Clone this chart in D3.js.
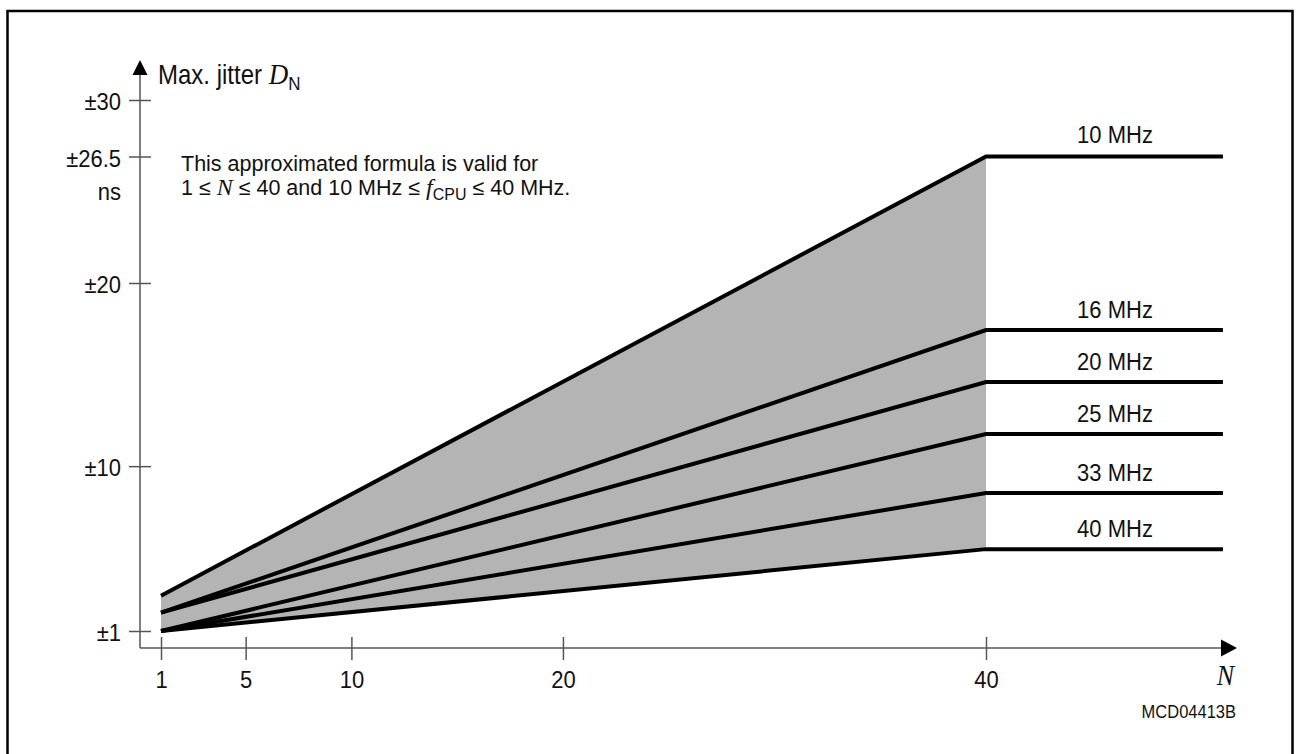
<!DOCTYPE html>
<html>
<head>
<meta charset="utf-8">
<script src="https://cdn.jsdelivr.net/npm/d3@7"></script>
<style>
  body { margin: 0; background: #fff; }
  svg text { font-family: "Liberation Sans", Arial, sans-serif; fill: #111; }
  .serif { font-family: "Liberation Serif", "Times New Roman", serif; font-style: italic; }
</style>
</head>
<body>
<div class="view"></div>
<script>
// data
const freqLabels = ['10 MHz', '16 MHz', '20 MHz', '25 MHz', '33 MHz', '40 MHz']
const jitterAtN1 = [2.93, 2.0, 2.0, 1.0, 1.0, 1.0]
const jitterAtN40 = [26.5, 17.43, 14.59, 11.75, 8.53, 5.47]
const nStart = 1
const nKnee = 40
const nFlatEnd = 51.2
const xTicks = [1, 5, 10, 20, 40]
const yTicks = [1, 10, 20, 26.5, 30]

const w = 1297
const h = 754
const stretchY = 1.12   // the original lettering is a bit taller than Liberation Sans

const svg = d3.select('.view')
    .append('svg')
    .attr('width', w)
    .attr('height', h)

// put a text at (x, y) and stretch it vertically around its baseline
function stretch(sel, x, y) {
    sel.attr('x', null).attr('y', null).attr('dy', null)
        .attr('transform', 'translate(' + x + ',' + y + ') scale(1,' + stretchY + ')')
    return sel
}

// scales (y is piecewise, the ±26.5 mark is not to scale in the drawing)
const xScale = d3.scaleLinear()
    .domain([nStart, nKnee])
    .range([161, 986])

const yScale = d3.scaleLinear()
    .domain([1, 20, 26.5, 30])
    .range([631, 283, 156.5, 100])

const axisX = 140
const axisY = 648

// frame
svg.append('rect')
    .attr('x', 7.5)
    .attr('y', 11)
    .attr('width', 1285)
    .attr('height', 780)
    .attr('fill', 'none')
    .attr('stroke', '#000')
    .attr('stroke-width', 2.5)

const series = freqLabels.map((label, i) => ({
    label: label,
    pts: [
        { n: nStart, v: jitterAtN1[i] },
        { n: nKnee, v: jitterAtN40[i] },
        { n: nFlatEnd, v: jitterAtN40[i] }
    ]
}))

// grey band between 10 MHz and 40 MHz up to N = 40
const last = freqLabels.length - 1
const band = [
    { n: nStart, hi: jitterAtN1[0], lo: jitterAtN1[last] },
    { n: nKnee, hi: jitterAtN40[0], lo: jitterAtN40[last] }
]
const area = d3.area()
    .x((d) => xScale(d.n))
    .y0((d) => yScale(d.lo))
    .y1((d) => yScale(d.hi))

svg.append('path')
    .datum(band)
    .attr('d', area)
    .attr('fill', '#b4b4b4')

// axes
const yAxis = d3.axisLeft(yScale)
    .tickValues(yTicks)
    .tickFormat((d) => '±' + d)
    .tickSize(11)

const xAxis = d3.axisBottom(xScale)
    .tickValues(xTicks)
    .tickFormat(d3.format('d'))
    .tickSize(12)

const gy = svg.append('g')
    .attr('class', 'y-axis')
    .attr('transform', 'translate(' + axisX + ',0)')
    .call(yAxis)

const gx = svg.append('g')
    .attr('class', 'x-axis')
    .attr('transform', 'translate(0,' + axisY + ')')
    .call(xAxis)

svg.selectAll('.domain').remove()
gy.selectAll('line').attr('x1', 11)
gx.selectAll('line').attr('y1', -11)
svg.selectAll('.tick line')
    .attr('stroke', '#555')
    .attr('stroke-width', 1.5)
svg.selectAll('.tick text')
    .attr('font-family', null)
    .attr('font-size', 22)
    .attr('fill', '#111')
gy.selectAll('text').call(stretch, -19, 9.5)
gx.selectAll('text').call(stretch, 0, 40)

// axis lines with arrows
svg.append('line')
    .attr('x1', axisX).attr('y1', axisY)
    .attr('x2', axisX).attr('y2', 74)
    .attr('stroke', '#555')
    .attr('stroke-width', 1.5)
svg.append('line')
    .attr('x1', axisX).attr('y1', axisY)
    .attr('x2', 1223).attr('y2', axisY)
    .attr('stroke', '#555')
    .attr('stroke-width', 1.5)
svg.append('path')
    .attr('d', 'M' + axisX + ',60 L' + (axisX - 7.5) + ',75 L' + (axisX + 7.5) + ',75 Z')
    .attr('fill', '#000')
svg.append('path')
    .attr('d', 'M1237,' + axisY + ' L1221,' + (axisY - 8.5) + ' L1221,' + (axisY + 8.5) + ' Z')
    .attr('fill', '#000')

// jitter lines
const line = d3.line()
    .x((d) => xScale(d.n))
    .y((d) => yScale(d.v))

svg.selectAll('.jitter')
    .data(series)
    .enter()
    .append('path')
    .attr('class', 'jitter')
    .attr('d', (d) => line(d.pts))
    .attr('fill', 'none')
    .attr('stroke', '#000')
    .attr('stroke-width', 4)
    .attr('stroke-linejoin', 'miter')

svg.selectAll('.freq')
    .data(series)
    .enter()
    .append('text')
    .attr('class', 'freq')
    .attr('transform', (d, i) => 'translate(1115,' + (yScale(d.pts[2].v) - (i == 0 ? 13.5 : 12)) + ') scale(1,' + stretchY + ')')
    .attr('text-anchor', 'middle')
    .attr('font-size', 22)
    .text((d) => d.label)

// axis titles
const title = svg.append('text')
    .attr('font-size', 24)
    .call(stretch, 158, 84)
title.append('tspan').text('Max. jitter ')
title.append('tspan').attr('class', 'serif').attr('font-size', 27).text('D')
title.append('tspan').attr('font-size', 17).attr('dy', 5).text('N')

svg.append('text')
    .attr('text-anchor', 'end')
    .attr('font-size', 22)
    .text('ns')
    .call(stretch, 121, 200)

svg.append('text')
    .attr('class', 'serif')
    .attr('text-anchor', 'end')
    .attr('font-size', 26)
    .text('N')
    .call(stretch, 1234, 685)

svg.append('text')
    .attr('text-anchor', 'end')
    .attr('font-size', 16.5)
    .text('MCD04413B')
    .call(stretch, 1236, 718)

// note
svg.append('text')
    .attr('x', 181)
    .attr('y', 171)
    .attr('font-size', 21.5)
    .text('This approximated formula is valid for')

const note = svg.append('text')
    .attr('x', 181)
    .attr('y', 195)
    .attr('font-size', 21.5)
note.append('tspan').text('1 ≤ ')
note.append('tspan').attr('class', 'serif').attr('font-size', 24).text('N')
note.append('tspan').text(' ≤ 40 and 10 MHz ≤ ')
note.append('tspan').attr('class', 'serif').attr('font-size', 24).text('f')
note.append('tspan').attr('font-size', 16).attr('dy', 5).text('CPU')
note.append('tspan').attr('dy', -5).text(' ≤ 40 MHz.')
</script>
</body>
</html>
